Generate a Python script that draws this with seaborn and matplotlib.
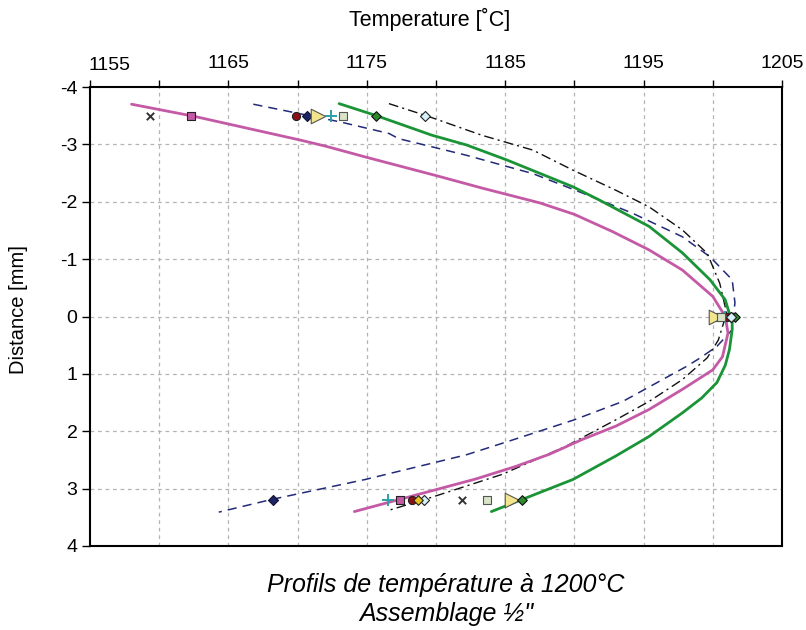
import numpy as np
import pandas as pd
import matplotlib
matplotlib.use("Agg")
import matplotlib.pyplot as plt
import matplotlib.transforms as mtransforms
import seaborn as sns

# ---- fitted profile curves (temperature, distance) ----
mag_T = [1158.0, 1162.5, 1170.1, 1172.0, 1174.9, 1180.1, 1183.3, 1187.5, 1190.0, 1192.75, 1195.4,
         1197.8, 1200.0, 1200.9, 1201.1, 1200.7, 1200.0, 1197.8, 1195.4, 1193.0, 1190.6, 1188.2,
         1185.8, 1182.9, 1174.1]
mag_d = [-3.70, -3.49, -3.08, -2.97, -2.78, -2.45, -2.24, -1.98, -1.78, -1.48, -1.16,
         -0.81, -0.35, 0.0, 0.29, 0.70, 0.93, 1.27, 1.62, 1.91, 2.14, 2.40,
         2.61, 2.83, 3.40]

grn_T = [1173.0, 1175.7, 1179.7, 1182.2, 1185.1, 1189.9, 1191.8, 1195.4, 1197.8, 1199.8, 1200.9,
         1201.4, 1201.4, 1201.2, 1200.9, 1200.3, 1199.2, 1197.8, 1195.4, 1193.0, 1189.9, 1184.0]
grn_d = [-3.71, -3.50, -3.16, -2.99, -2.73, -2.26, -2.03, -1.57, -1.11, -0.64, -0.29,
         0.11, 0.23, 0.58, 0.85, 1.15, 1.42, 1.68, 2.09, 2.43, 2.84, 3.40]

nav_T = [1166.8, 1173.1, 1176.6, 1177.3, 1182.2, 1187.0, 1190.6, 1194.2, 1197.8, 1199.8, 1201.4,
         1201.6, 1201.5, 1201.4, 1200.3, 1199.1, 1198.1, 1193.5, 1190.0, 1185.3, 1182.2, 1174.9,
         1168.1, 1164.3]
nav_d = [-3.70, -3.39, -3.19, -3.10, -2.81, -2.49, -2.15, -1.80, -1.39, -1.04, -0.64,
         -0.24, 0.0, 0.23, 0.52, 0.72, 0.87, 1.48, 1.80, 2.17, 2.41, 2.84,
         3.19, 3.41]

blk_T = [1176.6, 1179.3, 1183.3, 1187.0, 1189.9, 1193.0, 1195.4, 1197.8, 1199.6, 1200.5, 1201.0,
         1200.4, 1199.6, 1197.8, 1195.4, 1193.0, 1189.4, 1184.8, 1179.7, 1176.7]
blk_d = [-3.71, -3.50, -3.16, -2.90, -2.55, -2.20, -1.91, -1.51, -1.10, -0.58, -0.06,
         0.41, 0.72, 1.10, 1.48, 1.80, 2.26, 2.75, 3.15, 3.37]

# ---- measured points: top (d=-3.5), middle (d=0), bottom (d=3.2) ----
pt_d = [-3.5, 0.0, 3.2]
series_names = ["x_black", "sq_magenta", "circ_red", "dia_navy", "tri_yellow",
                "plus_teal", "sq_light", "dia_green", "dia_lightblue", "dia_gold"]
pt_T = {
    "x_black":       [1159.3, 1201.0, 1181.9],
    "sq_magenta":    [1162.3, 1200.5, 1177.4],
    "circ_red":      [1169.9, 1201.0, 1178.3],
    "dia_navy":      [1170.7, 1201.3, 1168.2],
    "tri_yellow":    [1171.5, 1200.2, 1185.5],
    "plus_teal":     [1172.4, 1200.9, 1176.5],
    "sq_light":      [1173.3, 1200.6, 1183.7],
    "dia_green":     [1175.7, 1201.6, 1186.2],
    "dia_lightblue": [1179.2, 1201.3, 1179.1],
    "dia_gold":      [None, None, 1178.7],
}

title_lines = ["Profils de température à 1200°C", "Assemblage ½\""]
x_ticks = [1155, 1165, 1175, 1185, 1195, 1205]
y_ticks = [-4, -3, -2, -1, 0, 1, 2, 3, 4]

sns.set_theme(style="white")
plt.rcParams["font.family"] = ["Liberation Sans", "DejaVu Sans"]
plt.rcParams["axes.unicode_minus"] = False
plt.rcParams["text.color"] = "black"
plt.rcParams["xtick.color"] = "black"
plt.rcParams["ytick.color"] = "black"
plt.rcParams["xtick.labelcolor"] = "black"
plt.rcParams["ytick.labelcolor"] = "black"

fig = plt.figure(figsize=(8.06, 6.30), dpi=100)
ax = fig.add_axes([90 / 806, 1 - 546 / 630, (782 - 90) / 806, (546 - 87) / 630])

curves = pd.concat([
    pd.DataFrame({"T": mag_T, "d": mag_d, "c": "mag"}),
    pd.DataFrame({"T": grn_T, "d": grn_d, "c": "grn"}),
    pd.DataFrame({"T": nav_T, "d": nav_d, "c": "nav"}),
    pd.DataFrame({"T": blk_T, "d": blk_d, "c": "blk"}),
])
styles = {
    "mag": dict(color="#c45aa6", lw=2.0, ls="-"),
    "grn": dict(color="#1a9436", lw=2.0, ls="-"),
    "nav": dict(color="#232a78", lw=1.1, ls=(0, (6, 4))),
    "blk": dict(color="#111111", lw=1.0, ls=(0, (7, 3, 1.5, 3))),
}
for key in ["nav", "blk", "mag", "grn"]:
    sub = curves[curves["c"] == key]
    st = styles[key]
    sns.lineplot(data=sub, x="T", y="d", sort=False, estimator=None, ax=ax,
                 color=st["color"], linewidth=st["lw"], linestyle=st["ls"], legend=False)

mstyle = {
    "x_black":       dict(marker="x", color="#333333", ec=None, s=28),
    "sq_magenta":    dict(marker="s", color="#c45aa6", ec="#222222", s=32),
    "circ_red":      dict(marker="o", color="#8b0f14", ec="#222222", s=34),
    "dia_navy":      dict(marker="D", color="#1c2466", ec="#111133", s=26),
    "tri_yellow":    dict(marker=">", color="#f3e58c", ec="#555555", s=110),
    "plus_teal":     dict(marker="+", color="#2aa0a8", ec=None, s=70),
    "sq_light":      dict(marker="s", color="#d9e3c6", ec="#555555", s=32),
    "dia_green":     dict(marker="D", color="#2d8a2d", ec="#111111", s=24),
    "dia_lightblue": dict(marker="D", color="#d8f0fa", ec="#222222", s=26),
    "dia_gold":      dict(marker="D", color="#e8c020", ec="#222222", s=24),
}
for name in series_names:
    vals = pt_T[name]
    df = pd.DataFrame({"T": vals, "d": pt_d}).dropna()
    st = mstyle[name]
    kw = dict(marker=st["marker"], s=st["s"], color=st["color"], zorder=5, legend=False)
    if st["ec"] is None:
        kw["linewidths"] = 1.4
    else:
        kw["edgecolor"] = st["ec"]
        kw["linewidth"] = 0.8
    sns.scatterplot(data=df, x="T", y="d", ax=ax, **kw)

ax.set_xlim(1155, 1205)
ax.set_ylim(4, -4)
ax.xaxis.tick_top()
ax.xaxis.set_label_position("top")
ax.set_xticks(x_ticks)
ax.set_xticklabels([str(v) for v in x_ticks])
ax.set_xticks(np.arange(1160, 1205, 10), minor=True)
ax.set_yticks(y_ticks)
ax.set_yticklabels([str(v) for v in y_ticks])
ax.tick_params(axis="x", which="both", direction="out", length=5, width=1, color="black",
               top=True, bottom=False, labelsize=14, pad=6, labelcolor="black")
ax.tick_params(axis="y", direction="out", length=6, width=1, color="black",
               left=True, labelsize=14, pad=3, labelcolor="black")

# first top label sits to the right of the corner and a bit lower
lab0 = ax.get_xticklabels()[0]
lab0.set_horizontalalignment("left")
lab0.set_transform(lab0.get_transform() +
                   mtransforms.ScaledTranslation(-2 / 100, -2.5 / 100, fig.dpi_scale_trans))

ax.grid(False)
for v in np.arange(1160, 1205, 5):
    ax.axvline(v, color="#b4b4b4", lw=0.9, ls=(0, (3, 3)), zorder=0)
for v in y_ticks[1:-1]:
    ax.axhline(v, color="#b4b4b4", lw=0.9, ls=(0, (3, 3)), zorder=0)

for sp in ax.spines.values():
    sp.set_visible(True)
    sp.set_color("black")
    sp.set_linewidth(1.5)

ax.set_xlabel("")
ax.set_ylabel("")
fig.text(430 / 806, 1 - 19 / 630, "Temperature [˚C]", ha="center", va="center",
         fontsize=15.5, color="black")
fig.text(19 / 806, 1 - 310 / 630, "Distance [mm]", ha="center", va="center",
         fontsize=14.5, rotation=90, color="black")

fig.text(446 / 806, 1 - 585 / 630, title_lines[0], ha="center", va="center",
         fontsize=18, style="italic", color="black")
fig.text(446 / 806, 1 - 614 / 630, title_lines[1], ha="center", va="center",
         fontsize=18, style="italic", color="black")

fig.savefig("out.png", dpi=100, facecolor="white")
